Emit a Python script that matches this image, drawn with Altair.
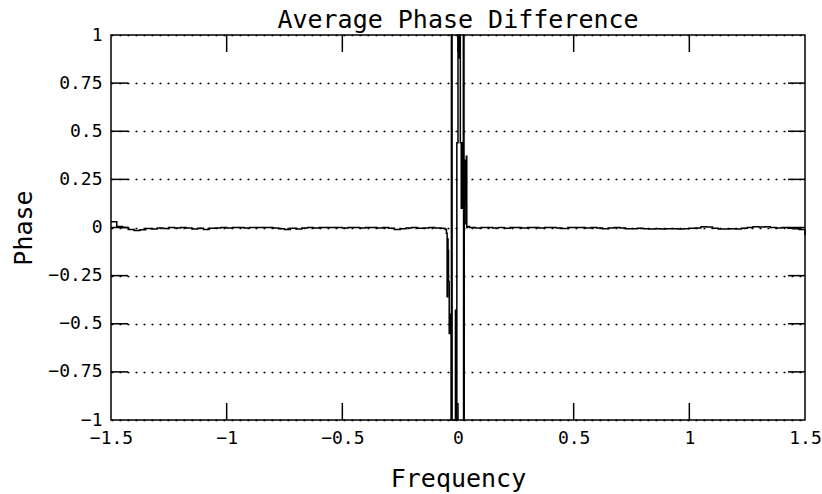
import altair as alt
import numpy as np
import pandas as pd

# Frequency grids: coarse on both flanks, fine through the central wrap region
freq_left = np.round(np.arange(-1.5, -0.0625, 0.025), 4)   # 58 points
freq_right = np.round(np.arange(0.05, 1.5001, 0.025), 4)   # 59 points
freq_center = [
    -0.0625, -0.055, -0.05, -0.047, -0.045, -0.043, -0.041, -0.038, -0.034,
    -0.030, -0.0285, -0.0275, -0.0265, -0.0255, -0.011, -0.008, -0.005,
    0.0, 0.002, 0.004, 0.010, 0.014, 0.018, 0.023, 0.024, 0.025, 0.026,
    0.027, 0.030, 0.034, 0.036, 0.038, 0.042,
]

phase_left = [
    0.03, 0.005, 0.0, -0.01, -0.015, -0.012, -0.005, -0.008, -0.003, -0.005,
    0.0, -0.002, 0.0, -0.003, -0.008, -0.004, -0.01, -0.004, -0.002, 0.0,
    -0.003, 0.0, 0.0, -0.002, 0.0, 0.0, 0.0, 0.0, -0.002, -0.006,
    -0.01, -0.004, -0.008, -0.003, 0.0, -0.002, 0.0, 0.0, 0.0, 0.0,
    -0.002, 0.0, 0.0, -0.003, 0.0, 0.0, -0.002, 0.0, -0.004, -0.01,
    -0.006, -0.002, 0.0, -0.004, -0.003, 0.0, -0.002, -0.004,
]
phase_center = [
    -0.005, -0.01, -0.03, -0.36, -0.06, -0.12, -0.28, -0.55, -0.45,
    -1.0, 1.0, -1.0, 1.0, -1.0, -0.43, -1.0, 0.44,
    1.0, 0.88, 1.0, 0.44, 0.10, 0.44, 1.0, -1.0, 1.0, -1.0,
    0.35, 0.12, 0.02, 0.37, 0.0, 0.005,
]
phase_right = [
    0.0, -0.003, 0.0, 0.0, -0.002, 0.0, -0.004, 0.0, 0.0, -0.002,
    0.0, 0.0, -0.003, 0.0, 0.0, -0.002, -0.005, 0.0, 0.0, 0.0,
    -0.002, 0.0, -0.003, -0.006, -0.003, 0.0, -0.002, -0.006, -0.006, -0.004,
    -0.006, -0.008, -0.006, -0.008, -0.006, -0.006, -0.008, -0.006, -0.004, -0.002,
    0.004, 0.002, -0.004, -0.008, -0.008, -0.006, -0.008, -0.004, 0.0, 0.004,
    0.002, 0.004, 0.0, -0.002, 0.0, -0.004, -0.006, -0.01, -0.04,
]

x_ticks = [-1.5, -1, -0.5, 0, 0.5, 1, 1.5]
y_ticks = [-1, -0.75, -0.5, -0.25, 0, 0.25, 0.5, 0.75, 1]
x_minor = [-1, -0.5, 0, 0.5, 1]
y_minor = [-0.75, -0.5, -0.25, 0, 0.25, 0.5, 0.75]

W, H = 694, 385
FONT = "DejaVu Sans Mono"

df = pd.DataFrame({
    "Frequency": list(freq_left) + freq_center + list(freq_right),
    "Phase": phase_left + phase_center + phase_right,
})
df_xt = pd.DataFrame({"Frequency": x_minor})
df_yt = pd.DataFrame({"Phase": y_minor})

xscale = alt.Scale(domain=[-1.5, 1.5], nice=False, zero=False)
yscale = alt.Scale(domain=[-1, 1], nice=False, zero=False)

line = alt.Chart(df).mark_line(
    color="black", strokeWidth=1.5, interpolate="step-after"
).encode(
    x=alt.X(
        "Frequency:Q", scale=xscale,
        axis=alt.Axis(
            values=x_ticks, format=".1~f", title="Frequency", grid=False,
            ticks=False, tickSize=0, domain=False, labelPadding=9,
            labelOverlap=False, labelFlush=False, titleY=66,
            titleBaseline="alphabetic",
        ),
    ),
    y=alt.Y(
        "Phase:Q", scale=yscale,
        axis=alt.Axis(
            values=y_ticks, format=".2~f", title="Phase", grid=True,
            gridDash=[2, 6], gridColor="black", gridWidth=1.3, gridOpacity=1,
            ticks=False, tickSize=0, domain=False, labelPadding=9,
            labelOverlap=False, labelFlush=False, labelBaseline="middle",
            titleAngle=270, titleX=-80, titleY=H / 2,
            titleBaseline="alphabetic",
        ),
    ),
)

# Inward tick marks on all four sides of the frame
tick_style = dict(color="black", strokeWidth=1.5)
xt_bottom = alt.Chart(df_xt).mark_rule(**tick_style).encode(
    x=alt.X("Frequency:Q", scale=xscale), y=alt.value(H), y2=alt.value(H - 17)
)
xt_top = alt.Chart(df_xt).mark_rule(**tick_style).encode(
    x=alt.X("Frequency:Q", scale=xscale), y=alt.value(0), y2=alt.value(17)
)
yt_left = alt.Chart(df_yt).mark_rule(**tick_style).encode(
    y=alt.Y("Phase:Q", scale=yscale), x=alt.value(0), x2=alt.value(17)
)
yt_right = alt.Chart(df_yt).mark_rule(**tick_style).encode(
    y=alt.Y("Phase:Q", scale=yscale), x=alt.value(W), x2=alt.value(W - 17)
)

chart = alt.layer(line, xt_bottom, xt_top, yt_left, yt_right).properties(
    width=W,
    height=H,
    title=alt.TitleParams(
        "Average Phase Difference", font=FONT, fontSize=25,
        fontWeight="normal", color="black", anchor="middle", offset=7, dy=14,
    ),
    autosize=alt.AutoSizeParams(type="none"),
    padding={"left": 111, "top": 35, "right": 17, "bottom": 74},
    background="white",
).configure_view(
    stroke="black", strokeWidth=1.5
).configure_axis(
    labelFont=FONT, labelFontSize=18, labelColor="black",
    titleFont=FONT, titleFontSize=25, titleFontWeight="normal", titleColor="black",
)

chart.save("out.html", embed_options={"renderer": "svg", "actions": False})
